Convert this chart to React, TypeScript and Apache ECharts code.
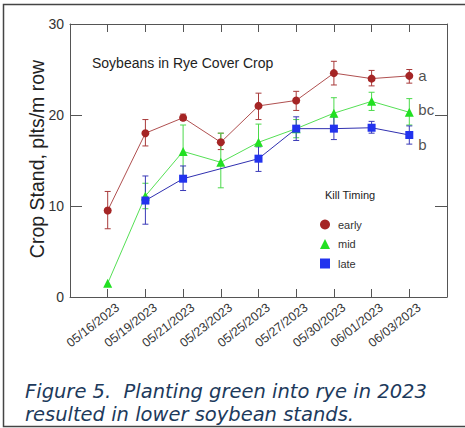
import React, { useEffect, useRef } from "react";
import * as echarts from "echarts";

const dates = ["05/16/2023", "05/19/2023", "05/21/2023", "05/23/2023", "05/25/2023", "05/27/2023", "05/30/2023", "06/01/2023", "06/03/2023"];
const early = [9.5, 18.0, 19.7, 17.0, 21.0, 21.6, 24.6, 24.0, 24.3];
const earlyLo = [7.5, 16.6, 19.4, 16.2, 19.5, 20.5, 23.3, 23.2, 23.5];
const earlyHi = [11.6, 19.5, 20.1, 18.0, 22.4, 22.6, 25.9, 24.9, 25.0];
const mid = [1.5, 11.1, 16.0, 14.8, 17.0, 18.5, 20.2, 21.5, 20.3];
const midLo = [null, 9.7, 13.1, 12.0, 14.9, 17.5, 18.5, 20.5, 18.9];
const midHi = [null, 12.5, 18.9, 18.0, 19.0, 19.5, 21.9, 22.5, 21.8];
const late = [null, 10.6, 13.0, null, 15.2, 18.5, 18.5, 18.6, 17.8];
const lateLo = [null, 8.0, 11.7, null, 13.8, 17.2, 17.3, 18.0, 16.8];
const lateHi = [null, 13.3, 14.4, null, 16.5, 19.8, 19.8, 19.3, 18.8];
const yTicks = [0, 10, 20, 30];
const letters = [
  { text: "a", value: 24.3 },
  { text: "bc", value: 20.6 },
  { text: "b", value: 16.8 },
];

const FONT = "Liberation Sans, Arial, sans-serif";

function errData(lo: (number | null)[], hi: (number | null)[]) {
  const out: number[][] = [];
  lo.forEach((l, i) => {
    const h = hi[i];
    if (l != null && h != null) out.push([i + 1, l, h]);
  });
  return out;
}

function errSeries(name: string, lo: (number | null)[], hi: (number | null)[], color: string) {
  return {
    type: "custom",
    name: name + "-err",
    xAxisIndex: 0,
    yAxisIndex: 0,
    data: errData(lo, hi),
    encode: { x: 0, y: [1, 2] },
    silent: true,
    z: 2,
    renderItem: (params: any, api: any) => {
      const x = api.value(0);
      const top = api.coord([x, api.value(2)]);
      const bot = api.coord([x, api.value(1)]);
      const cw = 3;
      const st = { stroke: color, lineWidth: 1 };
      return {
        type: "group",
        children: [
          { type: "line", shape: { x1: top[0], y1: top[1], x2: bot[0], y2: bot[1] }, style: st },
          { type: "line", shape: { x1: top[0] - cw, y1: top[1], x2: top[0] + cw, y2: top[1] }, style: st },
          { type: "line", shape: { x1: bot[0] - cw, y1: bot[1], x2: bot[0] + cw, y2: bot[1] }, style: st },
        ],
      };
    },
  };
}

function lineSeries(name: string, vals: (number | null)[], lineColor: string, markColor: string, symbol: string, size: number) {
  return {
    type: "line",
    name,
    xAxisIndex: 0,
    yAxisIndex: 0,
    data: vals.map((v, i) => [i + 1, v == null ? "-" : v]),
    connectNulls: true,
    symbol,
    symbolSize: size,
    showSymbol: true,
    lineStyle: { color: lineColor, width: 1 },
    itemStyle: { color: markColor },
    z: 3,
  };
}

export default function App() {
  const ref = useRef<HTMLDivElement>(null);
  useEffect(() => {
    if (!ref.current) return;
    const chart = echarts.init(ref.current, undefined, { renderer: "svg" });
    const axisColor = "#555";
    const frameAxis = (extra: any) => ({
      min: 0,
      axisLine: { show: true, onZero: false, lineStyle: { color: axisColor, width: 1 } },
      axisLabel: { show: false },
      splitLine: { show: false },
      ...extra,
    });
    const option: any = {
      animation: false,
      backgroundColor: "#fff",
      grid: [
        { left: 70, top: 24, width: 377, height: 273 },
        { left: 80, top: 24, width: 377, height: 273 },
      ],
      xAxis: [
        frameAxis({
          type: "value", gridIndex: 0, max: 10, interval: 1, position: "bottom",
          axisTick: { show: true, inside: true, length: 8, lineStyle: { color: axisColor } },
        }),
        frameAxis({
          type: "value", gridIndex: 0, max: 10, interval: 1, position: "top",
          axisTick: { show: true, inside: true, length: 8, lineStyle: { color: axisColor } },
        }),
        {
          type: "category", gridIndex: 1, boundaryGap: false, data: ["", ...dates, ""],
          axisLine: { show: false, onZero: false }, axisTick: { show: false },
          axisLabel: { show: true, interval: 0, rotate: 38, fontSize: 12.5, color: "#333", fontFamily: FONT, margin: 9 },
          splitLine: { show: false },
        },
      ],
      yAxis: [
        frameAxis({
          type: "value", gridIndex: 0, max: 30, interval: 10, position: "left",
          axisTick: { show: true, inside: true, length: 12, lineStyle: { color: axisColor } },
          axisLabel: {
            show: true, fontSize: 14, color: "#333", fontFamily: FONT, margin: 6,
            formatter: (v: number) => (yTicks.includes(v) ? String(v) : ""),
          },
        }),
        frameAxis({
          type: "value", gridIndex: 0, max: 30, interval: 10, position: "right",
          axisTick: { show: true, inside: true, length: 12, lineStyle: { color: axisColor } },
        }),
        { type: "value", gridIndex: 1, show: false },
      ],
      legend: {
        show: true,
        orient: "vertical",
        left: 315,
        top: 214,
        itemGap: 8.5,
        itemWidth: 10,
        itemHeight: 10,
        textStyle: { fontSize: 11, color: "#333", fontFamily: FONT, padding: [0, 0, 0, 3] },
        data: [
          { name: "early", icon: "circle", itemStyle: { color: "#a52525" } },
          { name: "mid", icon: "triangle", itemStyle: { color: "#22e022" } },
          { name: "late", icon: "rect", itemStyle: { color: "#2233ee" } },
        ],
        selectedMode: false,
      },
      series: [
        errSeries("early", earlyLo, earlyHi, "#a83a3a"),
        errSeries("mid", midLo, midHi, "#4cd94c"),
        errSeries("late", lateLo, lateHi, "#3a3ab8"),
        lineSeries("early", early, "#b05050", "#a52525", "circle", 8),
        lineSeries("mid", mid, "#55e055", "#22e022", "triangle", 9),
        lineSeries("late", late, "#3030b0", "#2233ee", "rect", 8),
        {
          type: "scatter",
          xAxisIndex: 0,
          yAxisIndex: 0,
          data: letters.map((l) => ({ value: [9, l.value], name: l.text })),
          symbolSize: 0,
          silent: true,
          label: {
            show: true, position: "right", distance: 9,
            formatter: (p: any) => p.name,
            fontSize: 15, color: "#222", fontFamily: FONT,
          },
        },
      ],
      graphic: [
        {
          type: "rect", silent: true,
          shape: { x: 3.5, y: 4.5, width: 480, height: 422 },
          style: { fill: "none", stroke: "#444", lineWidth: 1.5 },
        },
        {
          type: "text", x: 37, y: 159, rotation: Math.PI / 2,
          style: { text: "Crop Stand, plts/m row", fontSize: 19.5, fontFamily: FONT, fill: "#222", align: "center", verticalAlign: "middle" },
        },
        {
          type: "text", x: 92, y: 63,
          style: { text: "Soybeans in Rye Cover Crop", fontSize: 14, fontFamily: FONT, fill: "#222", align: "left", verticalAlign: "middle" },
        },
        {
          type: "text", x: 325, y: 195,
          style: { text: "Kill Timing", fontSize: 11, fontFamily: FONT, fill: "#222", align: "left", verticalAlign: "middle" },
        },
        {
          type: "text", x: 25, y: 381,
          style: { text: "Figure 5.  Planting green into rye in 2023", fontSize: 19.5, fontStyle: "italic", fontFamily: "DejaVu Sans", fill: "#1d3a5c", align: "left", verticalAlign: "alphabetic" },
        },
        {
          type: "text", x: 25, y: 404,
          style: { text: "resulted in lower soybean stands.", fontSize: 19.5, fontStyle: "italic", fontFamily: "DejaVu Sans", fill: "#1d3a5c", align: "left", verticalAlign: "alphabetic" },
        },
      ],
    };
    chart.setOption(option);
    return () => chart.dispose();
  }, []);
  return <div ref={ref} style={{ position: "absolute", left: 0, top: 0, width: 465, height: 428 }} />;
}
